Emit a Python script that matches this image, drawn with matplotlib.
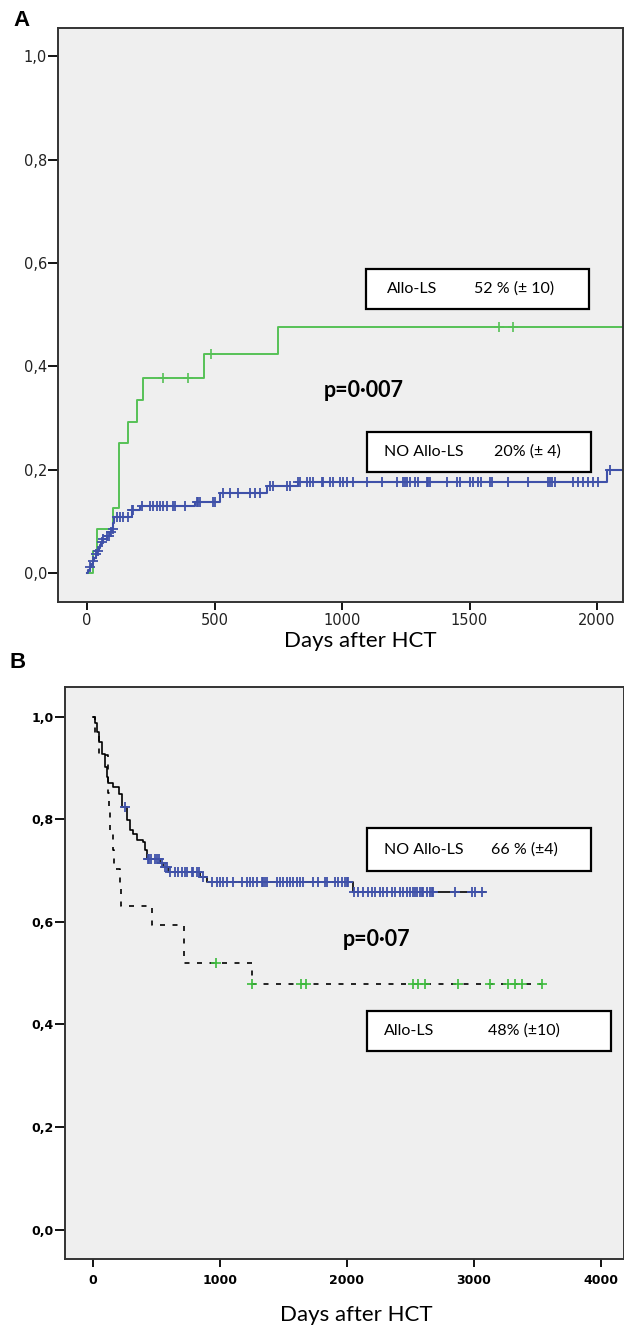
import numpy as np
import matplotlib
matplotlib.use("Agg")
import matplotlib.pyplot as plt
from matplotlib.patches import Rectangle

# ---- data: panel A (cumulative incidence) ----
a_allo_t = [0, 25, 38, 103, 127, 162, 197, 221, 459, 750, 2200]
a_allo_v = [0, 0.043, 0.085, 0.125, 0.251, 0.293, 0.335, 0.377, 0.424, 0.477, 0.477]
a_allo_cens = [299, 395, 486, 1617, 1669]

a_no_t = [0, 5, 10, 16, 22, 28, 34, 40, 45, 50, 55, 63, 77, 88, 96, 102, 106,
          175, 208, 424, 522, 705, 829, 2038, 2200]
a_no_v = [0, 0.006, 0.012, 0.018, 0.024, 0.030, 0.036, 0.042, 0.048, 0.054, 0.060,
          0.066, 0.072, 0.079, 0.085, 0.097, 0.109, 0.122, 0.130, 0.138, 0.155,
          0.168, 0.177, 0.200, 0.200]
a_no_cens = [12, 25, 35, 44, 57, 64, 77, 87, 93, 101, 116, 129, 142, 162, 175, 182,
             214, 247, 260, 273, 286, 299, 312, 338, 345, 384, 430, 437, 443, 495,
             502, 535, 561, 593, 639, 659, 678, 718, 731, 783, 796, 829, 835, 861,
             875, 888, 920, 927, 953, 966, 992, 1005, 1018, 1044, 1096, 1155, 1214,
             1240, 1247, 1253, 1266, 1286, 1299, 1332, 1338, 1345, 1410, 1449, 1462,
             1502, 1515, 1534, 1547, 1580, 1587, 1652, 1730, 1809, 1815, 1822, 1835,
             1907, 1926, 1946, 1965, 1985, 2005, 2050]

# ---- data: panel B (survival) ----
b_no_t = [0, 16, 29, 50, 68, 94, 108, 121, 160, 207, 226, 265, 291, 318, 349, 396,
          409, 428, 528, 554, 593, 843, 895, 2050, 3087]
b_no_v = [1.0, 0.987, 0.970, 0.951, 0.928, 0.902, 0.883, 0.870, 0.863, 0.849, 0.824,
          0.798, 0.779, 0.772, 0.759, 0.756, 0.740, 0.723, 0.714, 0.707, 0.697, 0.687,
          0.678, 0.658, 0.658]
b_no_cens = [252, 430, 444, 454, 488, 501, 522, 541, 567, 580, 606, 646, 672, 698,
             724, 738, 777, 790, 816, 837, 869, 934, 974, 1000, 1026, 1052, 1105, 1171,
             1210, 1236, 1262, 1289, 1328, 1341, 1354, 1367, 1446, 1472, 1499, 1525,
             1551, 1577, 1604, 1630, 1656, 1735, 1774, 1827, 1840, 1906, 1932, 1958,
             1984, 1997, 2010, 2055, 2089, 2129, 2168, 2194, 2221, 2260, 2286, 2313,
             2352, 2378, 2418, 2444, 2470, 2496, 2523, 2536, 2549, 2575, 2588, 2601,
             2628, 2654, 2667, 2680, 2851, 2982, 3008, 3061]

b_allo_t = [0, 18, 50, 115, 122, 128, 135, 158, 168, 215, 222, 462, 714, 1250, 3540]
b_allo_v = [1.0, 0.963, 0.926, 0.889, 0.852, 0.815, 0.778, 0.741, 0.704, 0.667, 0.630,
            0.593, 0.519, 0.479, 0.479]
b_allo_cens = [970, 1255, 1635, 1675, 2522, 2561, 2614, 2877, 3126, 3270, 3323, 3375, 3533]

yticks = [0.0, 0.2, 0.4, 0.6, 0.8, 1.0]
ytick_labels = ["0,0", "0,2", "0,4", "0,6", "0,8", "1,0"]

GREEN = "#56c156"
BLUE = "#3f51a9"
CGREEN = "#3cbb3c"
BG = "#efefef"
W, H = 624, 1326


def step_val(t, v, x):
    i = np.searchsorted(np.array(t), np.array(x), side="right") - 1
    return np.array(v)[i]


def fx(x):
    return x / W


def fy(y):
    return 1 - y / H


fig = plt.figure(figsize=(6.24, 13.26), dpi=100)

# panel A
axA = fig.add_axes([fx(58), fy(602), (623 - 58) / W, (602 - 28) / H])
axA.set_facecolor(BG)
axA.step(a_allo_t, a_allo_v, where="post", color=GREEN, lw=1.4)
axA.plot(a_allo_cens, step_val(a_allo_t, a_allo_v, a_allo_cens), "+", color=GREEN, ms=7, mew=1.2)
axA.step(a_no_t, a_no_v, where="post", color=BLUE, lw=1.5)
axA.plot(a_no_cens, step_val(a_no_t, a_no_v, a_no_cens), "+", color=BLUE, ms=7.5, mew=1.3)
axA.set_xlim(-114, 2102)
axA.set_ylim(-0.056, 1.055)
axA.set_xticks([0, 500, 1000, 1500, 2000])
axA.set_yticks(yticks)
axA.set_yticklabels(ytick_labels)
axA.tick_params(axis="y", length=7, width=1.3, pad=1, labelsize=10.5, labelcolor="#222")
axA.tick_params(axis="x", length=6, width=1.3, pad=2, labelsize=10.5, labelcolor="#222")
axA.set_xlabel("Days after HCT", fontfamily="Lato", fontsize=16)
axA.xaxis.set_label_coords((360 - 58) / 565, (602 - 641) / 574)
axA.xaxis.label.set_va("center")
for s in axA.spines.values():
    s.set_linewidth(1.4)
    s.set_color("#333")

# panel B
axB = fig.add_axes([fx(65), fy(1259), (624 - 65) / W, (1259 - 687) / H])
axB.set_facecolor(BG)
axB.step(b_no_t, b_no_v, where="post", color="black", lw=1.2)
axB.plot(b_no_cens, step_val(b_no_t, b_no_v, b_no_cens), "+", color=BLUE, ms=7.5, mew=1.3)
axB.step(b_allo_t, b_allo_v, where="post", color="black", lw=1.2, linestyle=(0, (3, 4.5)))
axB.plot(b_allo_cens, step_val(b_allo_t, b_allo_v, b_allo_cens), "+", color=CGREEN, ms=7.5, mew=1.2)
axB.set_xlim(-220, 4181)
axB.set_ylim(-0.0575, 1.058)
axB.set_xticks([0, 1000, 2000, 3000, 4000])
axB.set_yticks(yticks)
axB.set_yticklabels(ytick_labels)
axB.tick_params(axis="y", length=7, width=1.3, pad=1, labelsize=9)
axB.tick_params(axis="x", length=6, width=1.3, pad=5, labelsize=9)
for lab in axB.get_xticklabels() + axB.get_yticklabels():
    lab.set_fontweight("bold")
axB.set_xlabel("Days after HCT", fontfamily="Lato", fontsize=16)
axB.xaxis.set_label_coords((356 - 65) / 559, (1259 - 1315) / 572)
axB.xaxis.label.set_va("center")
for s in axB.spines.values():
    s.set_linewidth(1.4)
    s.set_color("#333")

# panel letters
fig.text(fx(21), fy(20), "A", fontsize=16, fontweight="bold", fontfamily="Liberation Sans",
         ha="center", va="center")
fig.text(fx(18), fy(663), "B", fontsize=16, fontweight="bold", fontfamily="Liberation Sans",
         ha="center", va="center")

# annotation boxes
boxes = [
    (366, 269, 589, 309, "Allo-LS", 387, "52 % (± 10)", 474),
    (367, 432, 591, 472, "NO Allo-LS", 384, "20% (± 4)", 494),
    (367, 828, 591, 871, "NO Allo-LS", 384, "66 % (±4)", 491),
    (367, 1011, 611, 1051, "Allo-LS", 384, "48% (±10)", 488),
]
for x0, y0, x1, y1, name, nx, val, vx in boxes:
    fig.add_artist(Rectangle((fx(x0), fy(y1)), (x1 - x0) / W, (y1 - y0) / H,
                             transform=fig.transFigure, facecolor="white",
                             edgecolor="black", lw=1.6, zorder=5))
    yc = fy((y0 + y1) / 2)
    fig.text(fx(nx), yc, name, fontfamily="Lato", fontsize=11.5, va="center", zorder=6)
    fig.text(fx(vx), yc, val, fontfamily="Lato", fontsize=11.5, va="center", zorder=6)

fig.text(fx(324), fy(390), "p=0·007", fontfamily="Lato", fontweight="bold", fontsize=15.5,
         va="center")
fig.text(fx(343), fy(940), "p=0·07", fontfamily="Lato", fontweight="bold", fontsize=15.5,
         va="center")

fig.savefig("out.png", dpi=100)
